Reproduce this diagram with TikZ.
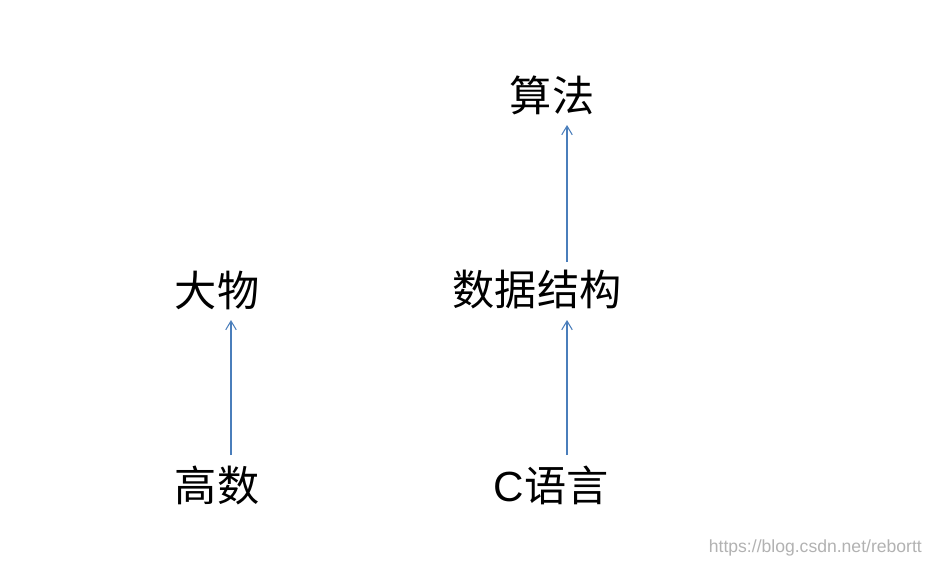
\documentclass[tikz,border=0pt]{standalone}
\usepackage{fontspec}
\setmainfont{Liberation Sans}
\newfontfamily\cjk{Noto Sans CJK SC}
\usetikzlibrary{arrows.meta}
\begin{document}
\begin{tikzpicture}[x=0.02cm,y=-0.02cm,
  lbl/.style={inner sep=0pt,font=\fontsize{24pt}{28pt}\selectfont\cjk},
  arr/.style={draw={rgb,255:red,74;green,126;blue,187},line width=0.6pt,-{Straight Barb[length=5pt,width=6pt]}}]
\useasboundingbox[fill=white] (0,0) rectangle (935,566);
\node[lbl] (suanfa) at (552,95) {算法};
\node[lbl] (dawu) at (217,290) {大物};
\node[lbl] (sjjg) at (537,290) {数据结构};
\node[lbl] (gaoshu) at (217,485) {高数};
\node[lbl] (cyy) at (551,485) {{\fontsize{24pt}{28pt}\selectfont\rmfamily C}语言};
\coordinate (a1s) at (231,455); \coordinate (a1e) at (231,320);
\coordinate (a2s) at (567,455); \coordinate (a2e) at (567,320);
\coordinate (a3s) at (567,262); \coordinate (a3e) at (567,125);
\draw[arr] (a1s) -- (a1e);
\draw[arr] (a2s) -- (a2e);
\draw[arr] (a3s) -- (a3e);
\node[text=black!30,font=\fontsize{10pt}{12pt}\selectfont,anchor=east] (wm) at (928,548) {https://blog.csdn.net/rebortt};
\end{tikzpicture}
\end{document}
